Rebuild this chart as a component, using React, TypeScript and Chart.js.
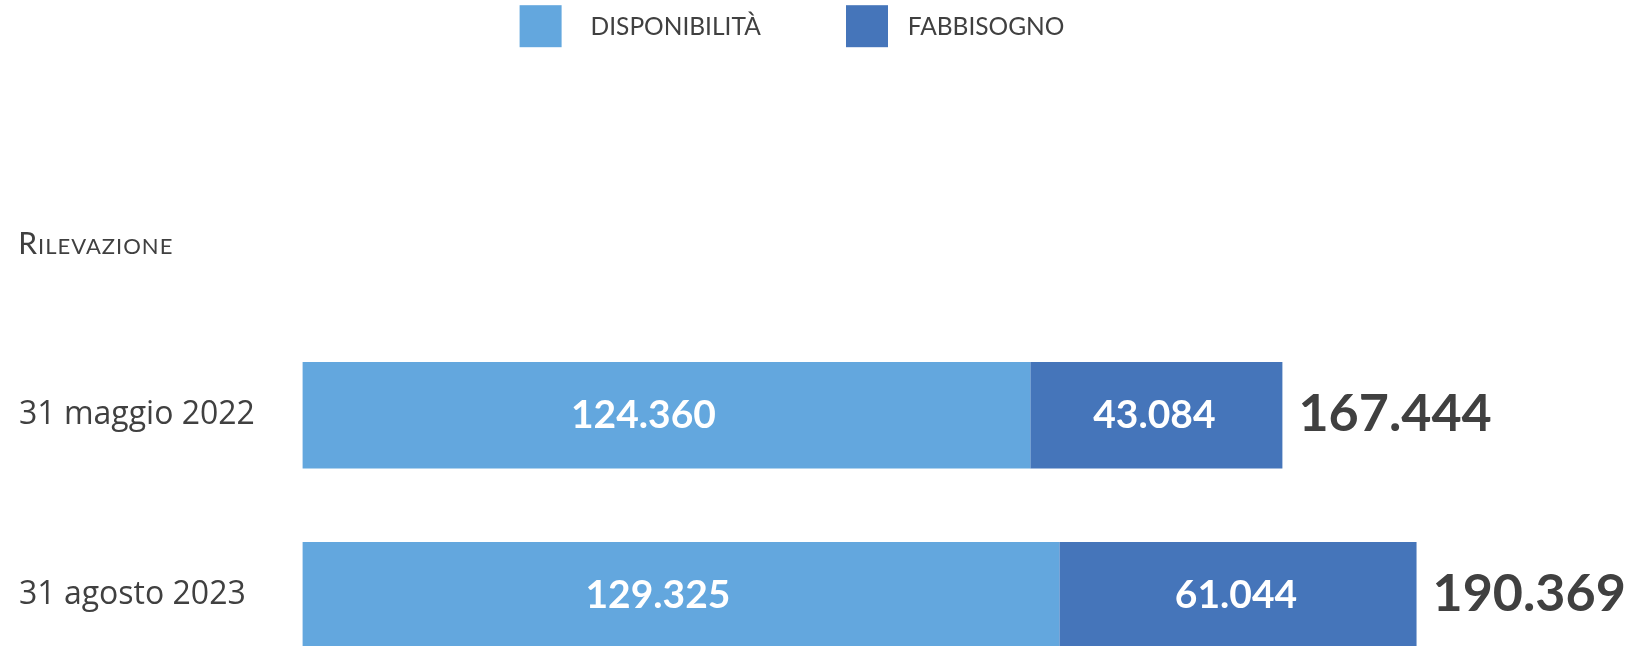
import React, { useEffect, useRef } from 'react';
import { Chart, registerables } from 'chart.js';

Chart.register(...registerables);

const categories = ['31 maggio 2022', '31 agosto 2023'];
const disponibilita = [124360, 129325];
const fabbisogno = [43084, 61044];
const seriesNames = ['DISPONIBILITÀ', 'FABBISOGNO'];
const axisTitle = 'Rilevazione';
const xMax = 200000;

const COLORS = ['#63A7DE', '#4575BA'];
const TEXT = '#404040';

const fmt = (v: number) => String(Math.round(v)).replace(/\B(?=(\d{3})+(?!\d))/g, '.');

const overlayPlugin = {
  id: 'overlay',
  afterDatasetsDraw(chart: any) {
    const ctx = chart.ctx;
    ctx.save();
    const offsets = [-23, -2];
    chart.data.datasets.forEach((ds: any, di: number) => {
      const meta = chart.getDatasetMeta(di);
      meta.data.forEach((bar: any, i: number) => {
        const { x, base, y } = bar.getProps(['x', 'base', 'y'], true);
        ctx.font = 'bold 39px Lato';
        ctx.fillStyle = '#ffffff';
        ctx.textAlign = 'center';
        ctx.textBaseline = 'middle';
        ctx.fillText(fmt(ds.data[i]), (x + base) / 2 + offsets[di], y);
      });
    });
    const lastMeta = chart.getDatasetMeta(chart.data.datasets.length - 1);
    lastMeta.data.forEach((bar: any, i: number) => {
      const total = chart.data.datasets.reduce((s: number, d: any) => s + d.data[i], 0);
      ctx.font = 'bold 52px Lato';
      ctx.fillStyle = TEXT;
      ctx.textAlign = 'left';
      ctx.textBaseline = 'middle';
      ctx.fillText(fmt(total), bar.x + 16, bar.y - 1);
    });
    ctx.restore();
  },
  afterDraw(chart: any) {
    const ctx = chart.ctx;
    ctx.save();
    // legend
    const boxX = [519.6, 846];
    const textX = [590.6, 907.7];
    chart.data.datasets.forEach((ds: any, di: number) => {
      ctx.fillStyle = ds.backgroundColor;
      ctx.fillRect(boxX[di], 5.2, 42, 42);
      ctx.fillStyle = TEXT;
      ctx.font = '24.5px Lato';
      ctx.textAlign = 'left';
      ctx.textBaseline = 'alphabetic';
      ctx.fillText(ds.label, textX[di], 34.5);
    });
    // axis title in small caps
    ctx.fillStyle = TEXT;
    ctx.textAlign = 'left';
    ctx.textBaseline = 'alphabetic';
    ctx.font = '30px Lato';
    const first = axisTitle.charAt(0).toUpperCase();
    ctx.fillText(first, 18.3, 254.3);
    const w = ctx.measureText(first).width;
    ctx.font = '22px Lato';
    (ctx as any).letterSpacing = '1px';
    ctx.fillText(axisTitle.slice(1).toUpperCase(), 18.3 + w + 1, 254.3);
    (ctx as any).letterSpacing = '0px';
    ctx.restore();
  },
};

export default function App() {
  const ref = useRef<HTMLCanvasElement>(null);
  useEffect(() => {
    if (!ref.current) return;
    const chart = new Chart(ref.current, {
      type: 'bar',
      data: {
        labels: categories,
        datasets: [
          { label: seriesNames[0], data: disponibilita, backgroundColor: COLORS[0], borderWidth: 0, clip: false as any },
          { label: seriesNames[1], data: fabbisogno, backgroundColor: COLORS[1], borderWidth: 0, clip: false as any },
        ],
      },
      options: {
        indexAxis: 'y',
        responsive: false,
        animation: false,
        categoryPercentage: 0.592,
        barPercentage: 1,
        layout: { padding: { top: 415.3, bottom: 50.8, left: 19, right: 163.1 } },
        plugins: { legend: { display: false }, tooltip: { enabled: false }, title: { display: false } },
        scales: {
          x: { stacked: true, min: 0, max: xMax, display: false },
          y: {
            stacked: true,
            offset: false,
            grid: { display: false },
            border: { display: false },
            ticks: {
              crossAlign: 'far',
              color: TEXT,
              padding: 0,
              font: { family: '"Open Sans"', size: 32 },
            },
            afterFit: (scale: any) => {
              scale.width = 283.6;
            },
          },
        },
      } as any,
      plugins: [overlayPlugin],
    });
    return () => chart.destroy();
  }, []);
  return (
    <div style={{ position: 'fixed', left: 0, top: 0, width: 1636, height: 646, background: '#fff' }}>
      <canvas ref={ref} width={1636} height={646} style={{ display: 'block' }} />
    </div>
  );
}
